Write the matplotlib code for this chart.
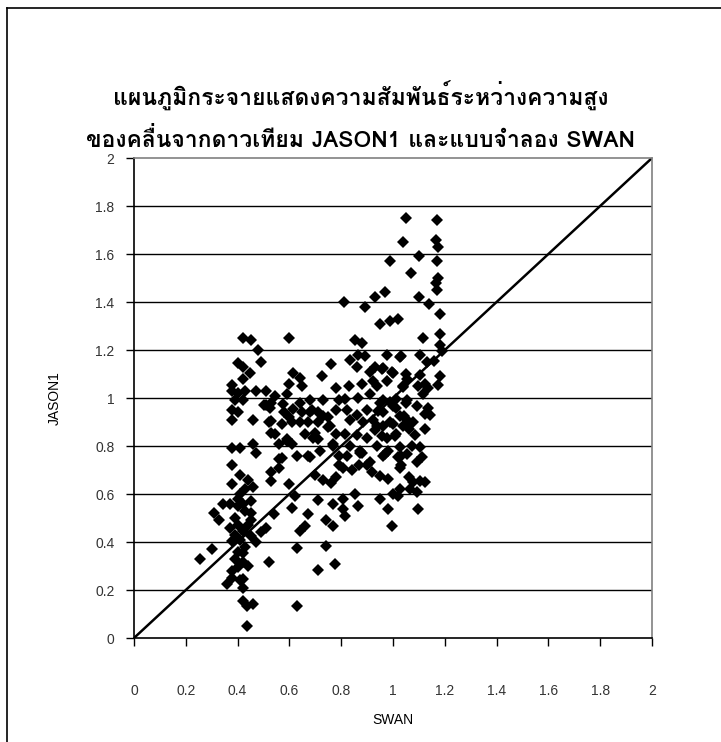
import matplotlib
matplotlib.use("Agg")
import matplotlib.pyplot as plt
from matplotlib import font_manager
from matplotlib.ft2font import FT2Font
from matplotlib.lines import Line2D

# find any installed font that has Thai glyphs
thai_font = None
for f in font_manager.fontManager.ttflist:
    try:
        if 0x0E01 in FT2Font(f.fname).get_charmap():
            thai_font = f.name
            break
    except Exception:
        pass

title_lines = ["แผนภูมิกระจายแสดงความสัมพันธ์ระหว่างความสูง",
               "ของคลื่นจากดาวเทียม JASON1 และแบบจำลอง SWAN"]
x_label = "SWAN"
y_label = "JASON1"
ticks = [0, 0.2, 0.4, 0.6, 0.8, 1, 1.2, 1.4, 1.6, 1.8, 2]
tick_labels = ["0", "0.2", "0.4", "0.6", "0.8", "1", "1.2", "1.4", "1.6", "1.8", "2"]

# (SWAN, JASON1) pairs, grouped by area
left_low = [(0.31, 0.52), (0.33, 0.49), (0.345, 0.56), (0.37, 0.56), (0.40, 0.55), (0.42, 0.56),
            (0.45, 0.57), (0.45, 0.52), (0.45, 0.49), (0.37, 0.46), (0.40, 0.47), (0.42, 0.445),
            (0.45, 0.425), (0.41, 0.41), (0.38, 0.405), (0.47, 0.40), (0.49, 0.44), (0.51, 0.46),
            (0.54, 0.515), (0.61, 0.54), (0.67, 0.515), (0.74, 0.49), (0.77, 0.465), (0.64, 0.445),
            (0.66, 0.465), (0.71, 0.575), (0.77, 0.56), (0.30, 0.37), (0.255, 0.33), (0.42, 0.355),
            (0.42, 0.315), (0.40, 0.295), (0.38, 0.28), (0.38, 0.25), (0.36, 0.225), (0.41, 0.24),
            (0.42, 0.245), (0.42, 0.21), (0.52, 0.315), (0.63, 0.375), (0.74, 0.385), (0.71, 0.285),
            (0.777, 0.31), (0.42, 0.155), (0.435, 0.135), (0.46, 0.14), (0.63, 0.135), (0.435, 0.05),
            (0.39, 0.50), (0.43, 0.53), (0.44, 0.47), (0.39, 0.43), (0.43, 0.38), (0.40, 0.36),
            (0.44, 0.30), (0.39, 0.33)]

left_col = [(0.40, 1.145), (0.42, 1.13), (0.38, 1.055), (0.42, 1.08), (0.38, 1.03), (0.40, 1.02),
            (0.43, 1.03), (0.39, 0.99), (0.42, 0.99), (0.38, 0.95), (0.40, 0.94), (0.38, 0.91),
            (0.38, 0.79), (0.41, 0.79), (0.38, 0.72), (0.41, 0.68), (0.38, 0.64), (0.44, 0.66),
            (0.43, 0.62), (0.41, 0.60), (0.40, 0.58), (0.42, 1.25), (0.53, 0.69), (0.56, 0.71),
            (0.53, 0.655), (0.60, 0.64), (0.70, 0.68), (0.73, 0.66), (0.76, 0.645), (0.78, 0.67),
            (0.46, 0.63), (0.62, 0.59)]

middle = [(0.60, 1.25), (0.45, 1.24), (0.48, 1.20), (0.49, 1.15), (0.76, 1.14), (0.615, 1.105),
          (0.64, 1.085), (0.725, 1.09), (0.448, 1.105), (0.60, 1.06), (0.65, 1.05), (0.78, 1.04),
          (0.47, 1.03), (0.51, 1.03), (0.545, 1.01), (0.59, 1.015), (0.68, 0.99), (0.79, 0.99),
          (0.50, 0.97), (0.525, 0.96), (0.577, 0.975), (0.615, 0.955), (0.686, 0.95), (0.731, 0.925),
          (0.46, 0.91), (0.53, 0.905), (0.57, 0.89), (0.64, 0.90), (0.71, 0.90), (0.756, 0.885),
          (0.545, 0.85), (0.59, 0.82), (0.66, 0.85), (0.69, 0.835), (0.46, 0.81), (0.56, 0.81),
          (0.77, 0.81), (0.47, 0.77), (0.57, 0.75), (0.63, 0.76), (0.68, 0.755), (0.72, 0.78),
          (0.79, 0.76), (0.79, 0.72), (0.53, 0.98), (0.64, 0.98), (0.73, 0.99), (0.58, 0.94),
          (0.65, 0.94), (0.68, 0.94), (0.71, 0.94), (0.75, 0.92), (0.78, 0.95), (0.52, 0.90),
          (0.61, 0.90), (0.67, 0.90), (0.75, 0.88), (0.53, 0.855), (0.59, 0.83), (0.61, 0.81),
          (0.70, 0.855), (0.71, 0.83), (0.78, 0.85), (0.56, 0.745), (0.67, 0.76), (0.77, 0.80),
          (0.51, 0.97), (0.60, 0.92)]

right_mid = [(0.95, 1.31), (0.99, 1.32), (1.117, 1.25), (1.18, 1.265), (0.853, 1.24), (0.88, 1.23),
             (1.19, 1.195), (0.834, 1.16), (0.866, 1.18), (0.892, 1.175), (0.976, 1.18), (1.027, 1.17),
             (1.104, 1.18), (1.13, 1.15), (1.16, 1.155), (0.86, 1.13), (0.91, 1.11), (0.963, 1.125),
             (0.995, 1.11), (1.053, 1.08), (1.104, 1.095), (1.123, 1.06), (1.18, 1.09), (1.175, 1.055),
             (0.83, 1.05), (0.88, 1.06), (0.924, 1.07), (0.976, 1.07), (1.04, 1.045), (1.097, 1.05),
             (1.136, 1.04), (1.117, 1.015), (0.814, 0.995), (0.866, 1.0), (0.911, 1.015), (0.95, 0.98),
             (0.99, 0.985), (1.053, 0.99), (1.092, 0.965), (1.136, 0.96), (1.123, 0.935), (1.143, 0.93),
             (0.821, 0.95), (0.86, 0.93), (0.898, 0.95), (0.944, 0.945), (1.0, 0.965), (1.027, 0.925),
             (0.834, 0.91), (0.885, 0.90), (0.924, 0.91), (0.963, 0.885), (1.0, 0.89), (1.053, 0.91),
             (1.079, 0.90), (0.814, 0.85), (0.86, 0.845), (0.93, 0.865), (0.976, 0.835), (1.008, 0.84),
             (1.06, 0.87), (1.085, 0.845), (1.123, 0.87), (0.834, 0.80), (0.873, 0.78), (0.937, 0.80),
             (0.982, 0.78), (1.027, 0.795), (1.072, 0.80), (1.104, 0.795), (0.821, 0.76), (0.879, 0.77),
             (0.911, 0.735), (0.969, 0.765), (1.021, 0.755), (1.053, 0.765), (1.092, 0.735), (1.111, 0.755),
             (0.93, 1.13), (1.03, 1.175), (0.956, 1.12), (1.0, 1.105), (1.05, 1.10), (0.937, 1.05),
             (1.04, 1.05), (0.96, 0.99), (1.01, 0.995), (1.05, 0.98), (0.96, 0.94), (1.01, 0.96),
             (1.044, 0.925), (0.937, 0.885), (0.99, 0.90), (1.04, 0.885), (0.90, 0.835), (0.957, 0.84),
             (1.01, 0.85), (0.872, 0.77), (0.96, 0.76), (1.03, 0.76), (0.87, 0.72), (1.03, 0.72)]

right_low = [(0.808, 0.71), (0.84, 0.70), (0.898, 0.72), (0.918, 0.69), (0.95, 0.677), (0.982, 0.663),
             (1.027, 0.71), (1.06, 0.67), (1.079, 0.65), (1.104, 0.656), (1.124, 0.65), (1.027, 0.62),
             (1.066, 0.62), (1.092, 0.607), (1.0, 0.60), (1.02, 0.593), (0.808, 0.58), (0.853, 0.60),
             (0.808, 0.537), (0.814, 0.51), (0.866, 0.55), (0.95, 0.58), (0.982, 0.537), (1.098, 0.537),
             (0.995, 0.467)]

top_right = [(0.81, 1.40), (0.89, 1.38), (0.93, 1.42), (0.97, 1.44), (0.99, 1.57), (1.04, 1.65),
             (1.05, 1.75), (1.10, 1.59), (1.07, 1.52), (1.10, 1.42), (1.14, 1.39), (1.02, 1.33),
             (1.17, 1.74), (1.165, 1.66), (1.175, 1.63), (1.17, 1.57), (1.175, 1.50), (1.165, 1.48),
             (1.17, 1.45), (1.18, 1.35), (1.18, 1.22)]

points = left_low + left_col + middle + right_mid + right_low + top_right
swan = [p[0] for p in points]
jason = [p[1] for p in points]

plt.rcParams['font.family'] = ['Liberation Sans', 'DejaVu Sans']

fig = plt.figure(figsize=(7.21, 7.42), dpi=100)
ax = fig.add_axes([134 / 721, 104 / 742, 518 / 721, 480 / 742])

# outer chart frame (top and left edges visible)
fig.add_artist(Line2D([7 / 721, 7 / 721], [0, 1 - 8 / 742], color='black', lw=1.2))
fig.add_artist(Line2D([7 / 721, 1], [1 - 8 / 742, 1 - 8 / 742], color='black', lw=1.2))

for t in ticks[1:-1]:
    ax.axhline(t, color='black', lw=1.0, zorder=1)

ax.plot([0, 2], [0, 2], color='black', lw=1.8, zorder=2)
ax.plot(swan, jason, linestyle='none', marker='D', ms=6, color='black', mew=0, zorder=3)

ax.set_xlim(0, 2)
ax.set_ylim(0, 2)
ax.set_xticks(ticks)
ax.set_yticks(ticks)
ax.set_xticklabels(tick_labels)
ax.set_yticklabels(tick_labels)
ax.tick_params(axis='both', direction='out', length=6, width=1, color='black',
               labelsize=10, labelcolor='#333333')
ax.tick_params(axis='x', pad=27)
ax.tick_params(axis='y', pad=8)

ax.spines['left'].set_color('black')
ax.spines['bottom'].set_color('black')
ax.spines['top'].set_color('#808080')
ax.spines['right'].set_color('#808080')
for s in ax.spines.values():
    s.set_linewidth(1.2)

ax.set_xlabel(x_label, fontsize=10, labelpad=11)
ax.set_ylabel(y_label, fontsize=10, labelpad=24)

title_family = [thai_font, 'DejaVu Sans'] if thai_font else ['DejaVu Sans']
fig.text(0.5, 1 - 96 / 742, title_lines[0], ha='center', va='center',
         fontsize=16.5, fontweight='bold', family=title_family)
fig.text(0.5, 1 - 139 / 742, title_lines[1], ha='center', va='center',
         fontsize=16.5, fontweight='bold', family=title_family)

fig.savefig("out.png", dpi=100)
